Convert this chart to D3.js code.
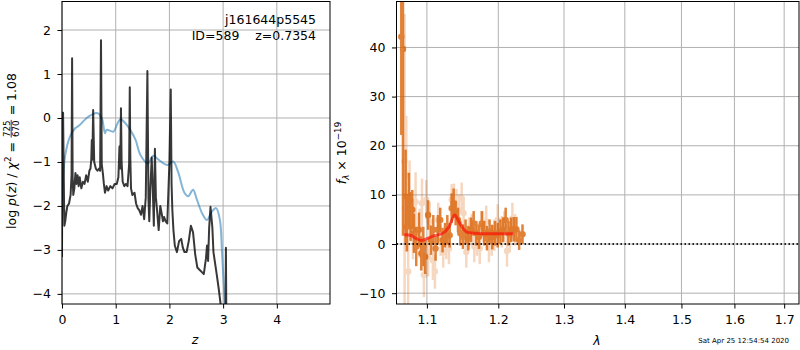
<!DOCTYPE html>
<html lang="en">
<head>
<meta charset="UTF-8">
<script src="https://cdn.jsdelivr.net/npm/d3@7"></script>
<style>
    body { margin: 0; background: #fff; }
    svg { font-family: "DejaVu Sans", sans-serif; }
    .tick text { font-size: 12.5px; }
</style>
</head>
<body>
<svg width="800" height="350"></svg>
<script>
    // left panel: log p(z) and chi2 curves
    var zGrid = [0.000, 0.008, 0.014, 0.020, 0.038, 0.044, 0.060, 0.08, 0.10, 0.13, 0.16, 0.178, 0.188, 0.198, 0.21,
        0.23, 0.25, 0.27, 0.29, 0.31, 0.33, 0.36, 0.39, 0.42, 0.45, 0.48, 0.51, 0.53, 0.545, 0.555, 0.565, 0.58,
        0.60, 0.63, 0.66, 0.69, 0.71, 0.726, 0.74, 0.76, 0.78, 0.80, 0.83, 0.86, 0.90, 0.94, 0.98, 1.02, 1.05,
        1.07, 1.085, 1.098, 1.11, 1.13, 1.16, 1.19, 1.22, 1.25, 1.262, 1.272, 1.285, 1.31, 1.35, 1.38, 1.41,
        1.44, 1.47, 1.50, 1.53, 1.56, 1.59, 1.61, 1.625, 1.645, 1.67, 1.69, 1.71, 1.73, 1.748, 1.77, 1.80,
        1.83, 1.86, 1.88, 1.90, 1.93, 1.96, 2.00, 2.025, 2.04, 2.055, 2.075, 2.10, 2.14, 2.18, 2.22, 2.25,
        2.28, 2.32, 2.36, 2.40, 2.44, 2.48, 2.52, 2.56, 2.60, 2.64, 2.68, 2.70, 2.72, 2.74, 2.765, 2.80,
        2.82, 2.85, 2.88, 2.92, 2.96, 3.00, 3.04, 3.052, 3.062, 3.074, 3.10];
    var logPz = [-3.16, 0.12, -1.2, 0.12, -1.9, -2.45, -2.35, -2.15, -2.0, -1.95, -1.75, -1.3, 1.36, -1.35, -1.75,
        -1.6, -1.25, -1.5, -1.3, -1.55, -1.35, -1.6, -1.45, -1.5, -1.3, -1.45, -1.2, -1.15, -0.95, -0.5, -0.95, 0.18,
        -1.0, -1.15, -1.2, -1.15, -1.2, 1.77, -1.05, -1.25, -1.5, -1.7, -1.55, -1.65, -1.55, -1.6, -1.5, -1.5, -1.35,
        -0.65, -1.15, 0.22, -1.0, -1.45, -1.55, -1.5, -1.55, -1.05, 0.70, -0.9, -1.6, -1.75, -1.7, -1.95,
        -2.05, -2.1, -2.2, -2.0, -2.3, -1.8, 1.07, -1.85, -2.35, -1.6, -0.9, -1.6, -2.45, -0.7, -1.8, -2.1,
        -2.55, -2.0, -2.2, -2.35, -2.25, -2.35, -2.4, -1.0, 0.65, -1.5, -2.1, -2.55, -2.9, -3.05, -2.8, -2.75,
        -2.95, -3.05, -3.05, -2.8, -2.45, -2.6, -3.1, -3.4, -3.45, -3.5, -3.55, -3.2, -2.9, -3.25, -2.5, -2.02,
        -2.5, -3.05, -3.3, -3.55, -3.9, -4.3, -5.0, -5.0, -2.95, -5.0, -6.0];
    var chiZ = [0.000, 0.012, 0.056, 0.15, 0.24, 0.33, 0.46, 0.55, 0.66, 0.74, 0.80, 0.83, 0.96, 1.02, 1.09, 1.18,
        1.27, 1.37, 1.46, 1.60, 1.70, 1.80, 1.96, 2.07, 2.16, 2.28, 2.35, 2.44, 2.51, 2.61, 2.70, 2.79, 2.87,
        2.94, 2.98, 3.03, 3.08];
    var chiLogP = [-1.9, -1.56, -0.88, -0.42, -0.24, -0.16, 0.0, 0.07, 0.11, 0.0, -0.35, -0.27, -0.31, -0.16, -0.03,
        -0.12, -0.27, -0.5, -0.84, -1.03, -0.86, -0.95, -1.07, -0.99, -1.22, -1.7, -1.78, -1.63, -1.85, -2.17,
        -2.32, -2.13, -2.05, -2.32, -3.08, -4.2, -5.5];
    var zTicks = [0, 1, 2, 3, 4];
    var pzTicks = [-4, -3, -2, -1, 0, 1, 2];

    // right panel: spectrum
    var waveBin = [1.0662, 1.0684, 1.0718, 1.0735, 1.0761, 1.0784, 1.0806, 1.0828, 1.0858, 1.0894, 1.0925, 1.0952,
        1.0978, 1.1016, 1.1054, 1.1086, 1.1117, 1.1148, 1.1180, 1.1212, 1.1245, 1.1277, 1.1309, 1.1337, 1.1364,
        1.1392, 1.1425, 1.1457, 1.1494, 1.1531, 1.1569, 1.1607, 1.1645, 1.1683, 1.1721, 1.1760, 1.1796, 1.1835,
        1.1873, 1.1913, 1.1952, 1.1991, 1.2030, 1.2069, 1.2108, 1.2148, 1.2188, 1.2228, 1.2268, 1.2308, 1.2359];
    var fluxBin = [42.2, 39.7, 9.7, 3.5, 9.0, 5.6, 7.0, 2.2, -0.5, 2.9, -1.9, -0.5, -2.6, 5.9, 0.8, 2.9, -0.9, 2.9,
        4.9, 0.8, 1.8, 2.9, 1.8, 7.3, 8.3, 6.3, 4.9, 2.2, 1.5, 2.5, 1.2, 2.9, 4.2, 2.2, 1.5, 4.2, 2.2, 1.2, 2.5,
        1.4, 2.2, 1.8, 2.5, 2.9, 4.9, 2.2, 2.9, 3.0, 3.0, 0.8, 2.0];
    var errBin = [20, 38, 9.5, 5, 5.5, 5, 4, 4, 4, 3.5, 3.5, 4, 3.5, 3, 3, 3, 2.5, 3, 2.5, 2.5, 2.5, 3, 2.5, 3, 3,
        2.5, 2.5, 2.5, 2.5, 2.5, 2.5, 2.5, 2.5, 2.5, 2.5, 2.5, 2.5, 2.5, 2.5, 2.5, 2.5, 2.5, 2.5, 2.5, 2.5, 2.5,
        2.5, 2.5, 2.5, 2, 2];
    var waveRaw = [1.0705, 1.0727, 1.0714, 1.0752, 1.0770, 1.0815, 1.0849, 1.0903, 1.0934, 1.0960, 1.0991, 1.1016,
        1.1037, 1.1081, 1.1108, 1.1153, 1.1185, 1.1221, 1.1263, 1.1300, 1.1337, 1.1369, 1.1402, 1.1438, 1.1476,
        1.1503, 1.1541, 1.1579, 1.1617, 1.1654, 1.1692, 1.1731, 1.1778, 1.1825, 1.1864, 1.1903, 1.1942, 1.1991,
        1.2050, 1.2088, 1.2128, 1.2168, 1.2208, 1.2248];
    var fluxRaw = [16.8, 14.1, 7.3, -5.6, 9.0, 2.9, 8.6, 2.2, 8.3, -6.3, 9.0, -2.6, 4.6, -3.3, -5.6, 4.9, 0.8, -1.6,
        0.1, -0.9, 9.0, 9.1, 8.0, 6.9, 9.3, 6.3, -1.6, 2.2, 2.9, -0.5, 0.8, -0.9, 3.5, 4.6, -0.5, 0.8, 1.8, 4.9,
        2.5, 3.5, -1.4, 1.5, 5.2, 2.9];
    var errRaw = [30, 12, 9, 8, 8, 6, 6, 5, 5, 4.5, 4, 4, 4, 4, 3.5, 3.5, 3.2, 3.2, 3.2, 3.2, 3.2, 3.2, 3.2, 3.2,
        3.2, 3.2, 3.2, 3.2, 3.2, 3.2, 3.2, 3.2, 3.2, 3.2, 3.2, 3.2, 3.2, 3.2, 3.2, 3.2, 3.2, 3.2, 3.2, 3.2];
    var modelWave = [1.070, 1.078, 1.086, 1.0925, 1.100, 1.110, 1.1216, 1.130, 1.1378, 1.145, 1.154, 1.165,
        1.180, 1.200, 1.222];
    var modelFlux = [1.9, 1.8, 1.1, 0.7, 1.1, 1.7, 2.2, 3.5, 5.9, 4.2, 2.5, 2.2, 2.1, 2.1, 2.1];
    var waveTicks = [1.1, 1.2, 1.3, 1.4, 1.5, 1.6, 1.7];
    var fluxTicks = [-10, 0, 10, 20, 30, 40];

    var svg = d3.select("svg");
    var plotTop = 1, plotBottom = 304;
    var gridColor = "#b0b0b0";

    function panel(id, x, y, xTicks, yTicks) {
        var g = svg.append("g");
        var x0 = x.range()[0], x1 = x.range()[1];
        svg.append("clipPath").attr("id", id).append("rect")
            .attr("x", x0).attr("y", plotTop).attr("width", x1 - x0).attr("height", plotBottom - plotTop);
        // grid
        g.selectAll(".gx").data(xTicks).enter().append("line")
            .attr("x1", function (d) { return x(d); }).attr("x2", function (d) { return x(d); })
            .attr("y1", plotTop).attr("y2", plotBottom)
            .attr("stroke", gridColor).attr("stroke-width", 1);
        g.selectAll(".gy").data(yTicks).enter().append("line")
            .attr("y1", function (d) { return y(d); }).attr("y2", function (d) { return y(d); })
            .attr("x1", x0).attr("x2", x1)
            .attr("stroke", gridColor).attr("stroke-width", 1);
        return svg.append("g").attr("clip-path", "url(#" + id + ")");
    }

    function frame(x, y, xTicks, yTicks, xFmt) {
        var x0 = x.range()[0], x1 = x.range()[1];
        var ax = svg.append("g").attr("transform", "translate(0," + plotBottom + ")")
            .call(d3.axisBottom(x).tickValues(xTicks).tickSize(4.5).tickPadding(7).tickFormat(xFmt));
        var ay = svg.append("g").attr("transform", "translate(" + x0 + ",0)")
            .call(d3.axisLeft(y).tickValues(yTicks).tickSize(4.5).tickPadding(6.5).tickFormat(d3.format("d")));
        [ax, ay].forEach(function (a) {
            a.select(".domain").remove();
            a.selectAll("text").attr("fill", "#000").style("font-family", "DejaVu Sans");
            a.selectAll("line").attr("stroke", "#000");
        });
        svg.append("rect").attr("x", x0).attr("y", plotTop + 0.5)
            .attr("width", x1 - x0).attr("height", plotBottom - plotTop - 0.5)
            .attr("fill", "none").attr("stroke", "#000").attr("stroke-width", 1);
    }

    // ---- left panel
    var xz = d3.scaleLinear().domain([0, 4.99]).range([62, 330]);
    var yz = d3.scaleLinear().domain([-4.23, 2.66]).range([plotBottom, plotTop]);
    var left = panel("clipL", xz, yz, zTicks, pzTicks);

    var line = d3.line()
        .x(function (d) { return xz(d[0]); })
        .y(function (d) { return yz(d[1]); });
    left.append("path").datum(d3.zip(chiZ, chiLogP))
        .attr("d", line.curve(d3.curveCatmullRom))
        .attr("fill", "none").attr("stroke", "#1f77b4").attr("stroke-opacity", 0.55).attr("stroke-width", 2);
    left.append("path").datum(d3.zip(zGrid, logPz))
        .attr("d", line.curve(d3.curveLinear))
        .attr("fill", "none").attr("stroke", "#000").attr("stroke-opacity", 0.78).attr("stroke-width", 2)
        .attr("stroke-linejoin", "round");
    frame(xz, yz, zTicks, pzTicks, d3.format("d"));

    svg.append("text").attr("x", 316).attr("y", 24).attr("text-anchor", "end")
        .attr("font-size", 12.5).text("j161644p5545");
    svg.append("text").attr("x", 316).attr("y", 40).attr("text-anchor", "end")
        .attr("font-size", 12.5).style("white-space", "pre").text("ID=589    z=0.7354");

    // ---- right panel
    var xw = d3.scaleLog().domain([1.06, 1.731]).range([396.5, 799]);
    var yf = d3.scaleLinear().domain([-12.2, 49.45]).range([plotBottom, plotTop]);
    var right = panel("clipR", xw, yf, waveTicks, fluxTicks);
    var orange = "#d95f02";

    function errPoints(waves, flux, err, alpha) {
        var g = right.append("g").attr("opacity", alpha);
        var pts = d3.range(waves.length);
        g.selectAll("line").data(pts).enter().append("line")
            .attr("x1", function (i) { return xw(waves[i]); })
            .attr("x2", function (i) { return xw(waves[i]); })
            .attr("y1", function (i) { return yf(flux[i] - err[i]); })
            .attr("y2", function (i) { return yf(flux[i] + err[i]); })
            .attr("stroke", orange).attr("stroke-width", 2.5);
        g.selectAll("circle").data(pts).enter().append("circle")
            .attr("cx", function (i) { return xw(waves[i]); })
            .attr("cy", function (i) { return yf(flux[i]); })
            .attr("r", 3.2).attr("fill", orange);
    }
    errPoints(waveRaw, fluxRaw, errRaw, 0.25);
    errPoints(waveBin, fluxBin, errBin, 0.78);

    right.append("path").datum(d3.zip(modelWave, modelFlux))
        .attr("d", d3.line().curve(d3.curveCatmullRom)
            .x(function (d) { return xw(d[0]); })
            .y(function (d) { return yf(d[1]); }))
        .attr("fill", "none").attr("stroke", "red").attr("stroke-opacity", 0.6).attr("stroke-width", 3);

    right.append("line").attr("x1", xw.range()[0]).attr("x2", xw.range()[1])
        .attr("y1", yf(0)).attr("y2", yf(0))
        .attr("stroke", "#000").attr("stroke-width", 2).attr("stroke-dasharray", "1.5,2.5").attr("opacity", 0.85);
    frame(xw, yf, waveTicks, fluxTicks, d3.format(".1f"));

    // ---- axis labels with math pieces
    function mathLabel(cx, cy, pieces) {
        var outer = svg.append("g").attr("transform", "translate(" + cx + "," + cy + ") rotate(-90)");
        var g = outer.append("g");
        var pos = 0;
        pieces.forEach(function (p) {
            if (p.frac) {
                var n = g.append("text").attr("font-size", 8.75).attr("y", -6).text(p.frac[0]);
                var d = g.append("text").attr("font-size", 8.75).attr("y", 3.5).text(p.frac[1]);
                var w = Math.max(n.node().getComputedTextLength(), d.node().getComputedTextLength()) + 2;
                n.attr("x", pos + w / 2).attr("text-anchor", "middle");
                d.attr("x", pos + w / 2).attr("text-anchor", "middle");
                g.append("line").attr("x1", pos + 0.5).attr("x2", pos + w - 0.5)
                    .attr("y1", -4.3).attr("y2", -4.3).attr("stroke", "#000").attr("stroke-width", 0.8);
                pos += w;
            } else {
                var t = g.append("text").attr("x", pos).attr("y", p.dy || 0)
                    .attr("font-size", p.size || 12.5)
                    .style("font-style", p.it ? "italic" : "normal")
                    .style("white-space", "pre").text(p.t);
                pos += t.node().getComputedTextLength();
            }
        });
        g.attr("transform", "translate(" + (-pos / 2) + ",0)");
    }

    mathLabel(15.5, 151, [
        {t: "log "}, {t: "p", it: true}, {t: "("}, {t: "z", it: true}, {t: ")"}, {t: " / "},
        {t: "χ", it: true}, {t: "2", size: 8.75, dy: -5}, {t: " = "}, {frac: ["725", "670"]}, {t: " = 1.08"}
    ]);
    mathLabel(346, 153, [
        {t: "f", it: true}, {t: "λ", it: true, size: 8.75, dy: 2.5}, {t: " × 10"}, {t: "−19", size: 8.75, dy: -5}
    ]);

    svg.append("text").attr("x", 195).attr("y", 344).attr("text-anchor", "middle")
        .attr("font-size", 12.5).style("font-style", "italic").text("z");
    svg.append("text").attr("x", 597).attr("y", 345).attr("text-anchor", "middle")
        .attr("font-size", 12.5).style("font-style", "italic").text("λ");
    svg.append("text").attr("x", 789).attr("y", 343).attr("text-anchor", "end")
        .attr("font-size", 7).text("Sat Apr 25 12:54:54 2020");
</script>
</body>
</html>
